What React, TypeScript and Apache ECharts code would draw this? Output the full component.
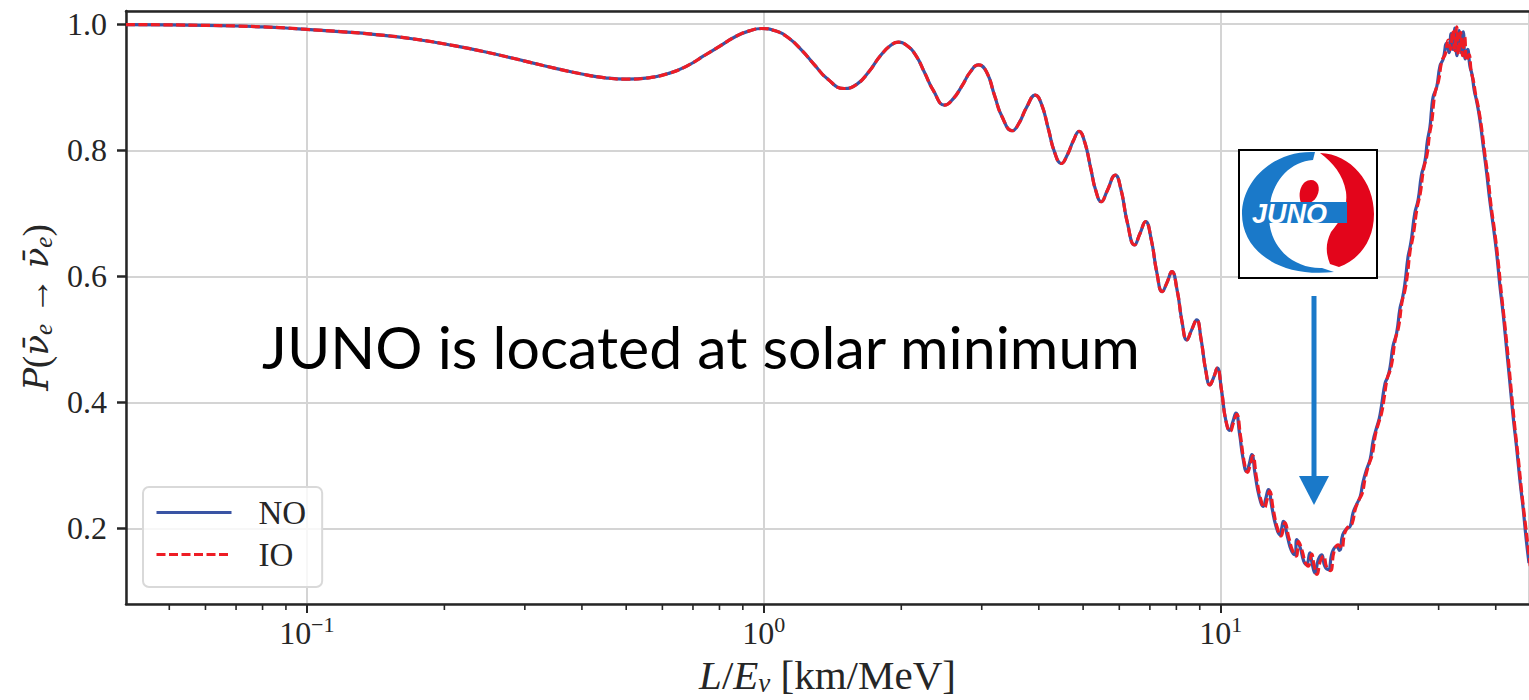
import React, { useEffect, useRef } from "react";
import * as echarts from "echarts";

// Survival probability P(anti-nu_e -> anti-nu_e) versus L/E (km/MeV)
// Region where both orderings coincide
const sharedCurve: [number, number][] = [
  [0.0402, 0.9995], [0.05, 0.999], [0.06, 0.9982], [0.07, 0.9972], [0.08, 0.9958], [0.09, 0.994],
  [0.1, 0.9918], [0.12, 0.988], [0.14, 0.984], [0.17, 0.977], [0.21, 0.966], [0.255, 0.9535],
  [0.3, 0.9415], [0.35, 0.93], [0.4, 0.921], [0.45, 0.915], [0.5, 0.9128], [0.56, 0.915],
  [0.62, 0.922], [0.68, 0.934], [0.74, 0.95], [0.8, 0.965], [0.87, 0.981], [0.93, 0.9895],
  [0.99, 0.9932], [1.06, 0.9895], [1.13, 0.979], [1.21, 0.959], [1.29, 0.936], [1.38, 0.913],
  [1.5, 0.898], [1.6, 0.905], [1.7, 0.925], [1.8, 0.95], [1.9, 0.967], [1.97, 0.9715],
  [2.05, 0.967], [2.15, 0.951], [2.25, 0.923], [2.35, 0.895], [2.49, 0.8716], [2.6, 0.882],
  [2.72, 0.903], [2.83, 0.924], [2.95, 0.9355], [3.07, 0.925], [3.2, 0.887], [3.32, 0.854],
  [3.5, 0.831], [3.62, 0.843], [3.76, 0.868], [3.93, 0.8875], [4.05, 0.874], [4.2, 0.833],
  [4.33, 0.797], [4.48, 0.779], [4.62, 0.793], [4.76, 0.815], [4.9, 0.83], [5.04, 0.813],
  [5.2, 0.77], [5.33, 0.736], [5.48, 0.7183], [5.64, 0.735], [5.88, 0.7607], [6.05, 0.738],
  [6.25, 0.685], [6.48, 0.6497], [6.66, 0.668], [6.85, 0.6867], [7.05, 0.658], [7.25, 0.606],
  [7.45, 0.5757], [7.63, 0.59], [7.82, 0.6074], [8.03, 0.578], [8.24, 0.526], [8.43, 0.499],
  [8.64, 0.515], [8.86, 0.5308], [9.06, 0.5], [9.28, 0.45], [9.47, 0.4278], [9.66, 0.44],
  [9.83, 0.4543], [10.04, 0.42], [10.26, 0.372],
];

// Normal ordering beyond 10 km/MeV
const noTail: [number, number][] = [
  [10.47, 0.3555], [10.62, 0.368], [10.8, 0.383], [11.0, 0.35], [11.2, 0.31], [11.4, 0.2904],
  [11.55, 0.302], [11.7, 0.3169], [11.9, 0.285], [12.15, 0.25], [12.4, 0.2349], [12.55, 0.247],
  [12.72, 0.2614], [12.95, 0.233], [13.2, 0.205], [13.47, 0.19], [13.6, 0.2], [13.72, 0.2111],
  [14.0, 0.187], [14.28, 0.165], [14.54, 0.1583], [14.68, 0.182], [14.95, 0.168], [15.2, 0.148],
  [15.42, 0.1425], [15.68, 0.161], [15.85, 0.145], [16.09, 0.1293], [16.35, 0.15], [16.63, 0.158],
  [16.9, 0.14], [17.2, 0.1346], [17.55, 0.162], [17.94, 0.1715], [18.2, 0.165], [18.5, 0.19],
  [18.9, 0.2], [19.2, 0.203], [19.5, 0.2254], [19.9, 0.24], [20.2, 0.25], [20.5, 0.2737],
  [20.9, 0.295], [21.25, 0.31], [21.58, 0.3403], [21.95, 0.36], [22.25, 0.375], [22.5, 0.395],
  [22.9, 0.43], [23.2, 0.44], [23.48, 0.4554], [23.85, 0.49], [24.27, 0.5097], [24.7, 0.55],
  [25.0, 0.565], [25.31, 0.5885], [25.7, 0.63], [25.95, 0.645], [26.18, 0.6611], [26.6, 0.7],
  [27.06, 0.7217], [27.5, 0.76], [27.99, 0.782], [28.35, 0.815], [28.71, 0.8366], [28.95, 0.865],
  [29.19, 0.885], [29.7, 0.9], [30.2, 0.9334], [30.7, 0.945], [31.22, 0.9697], [31.6, 0.955],
  [31.95, 0.985], [32.3, 0.96], [32.56, 0.994], [32.9, 0.95], [33.25, 0.99], [33.6, 0.955],
  [33.96, 0.988], [34.3, 0.945], [34.7, 0.96], [35.12, 0.9334], [35.5, 0.92], [35.9, 0.895],
  [36.3, 0.879], [36.9, 0.85], [37.56, 0.8063], [38.2, 0.765], [38.8, 0.7217], [39.5, 0.68],
  [40.18, 0.637], [40.85, 0.585], [41.53, 0.54], [42.25, 0.485], [42.96, 0.431], [43.7, 0.375],
  [44.44, 0.328], [45.2, 0.275], [45.93, 0.2314], [46.6, 0.185], [47.3, 0.145],
];

// Inverted ordering beyond 10 km/MeV
const ioTail: [number, number][] = [
  [10.5, 0.354], [10.66, 0.367], [10.84, 0.381], [11.05, 0.347], [11.25, 0.307], [11.45, 0.289],
  [11.6, 0.3], [11.76, 0.315], [11.97, 0.282], [12.22, 0.248], [12.47, 0.233], [12.63, 0.245],
  [12.8, 0.259], [13.03, 0.231], [13.28, 0.203], [13.56, 0.188], [13.7, 0.198], [13.82, 0.209],
  [14.1, 0.185], [14.38, 0.164], [14.64, 0.156], [14.8, 0.179], [15.07, 0.165], [15.32, 0.146],
  [15.55, 0.14], [15.82, 0.159], [16.0, 0.143], [16.25, 0.127], [16.52, 0.148], [16.8, 0.156],
  [17.07, 0.138], [17.38, 0.133], [17.72, 0.164], [18.1, 0.174], [18.38, 0.168], [18.7, 0.193],
  [19.08, 0.204], [19.4, 0.208], [19.7, 0.23], [20.1, 0.246], [20.42, 0.256], [20.72, 0.28],
  [21.12, 0.302], [21.48, 0.318], [21.8, 0.348], [22.18, 0.368], [22.5, 0.383], [22.75, 0.403],
  [23.15, 0.438], [23.45, 0.449], [23.72, 0.464], [24.1, 0.499], [24.52, 0.52], [24.95, 0.56],
  [25.28, 0.576], [25.6, 0.6], [25.98, 0.64], [26.25, 0.656], [26.48, 0.672], [26.9, 0.708],
  [27.35, 0.732], [27.8, 0.77], [28.28, 0.792], [28.65, 0.825], [29.0, 0.847], [29.25, 0.875],
  [29.5, 0.893], [29.98, 0.91], [30.5, 0.942], [31.0, 0.952], [31.5, 0.975], [31.85, 0.96],
  [32.2, 0.99], [32.55, 0.958], [32.85, 0.996], [33.15, 0.952], [33.5, 0.987], [33.85, 0.95],
  [34.2, 0.98], [34.55, 0.942], [34.95, 0.952], [35.35, 0.925], [35.75, 0.91], [36.15, 0.888],
  [36.6, 0.87], [37.2, 0.838], [37.85, 0.795], [38.5, 0.755], [39.1, 0.71], [39.8, 0.67],
  [40.5, 0.623], [41.15, 0.573], [41.85, 0.525], [42.6, 0.47], [43.3, 0.415], [44.05, 0.36],
  [44.8, 0.312], [45.55, 0.26], [46.3, 0.215], [47.0, 0.175], [47.6, 0.14],
];

const seriesNames = ["NO", "IO"];
const xMinorTicks = [
  0.05, 0.06, 0.07, 0.08, 0.09,
  0.2, 0.3, 0.4, 0.5, 0.6, 0.7, 0.8, 0.9,
  2, 3, 4, 5, 6, 7, 8, 9,
  20, 30, 40,
];
const X_MIN = 0.0402;
const X_MAX = 47.3;
const Y_MIN = 0.08;
const Y_MAX = 1.021;
const annotation = "JUNO is located at solar minimum";
const logoWord = "JUNO";

const SERIF = "'Liberation Serif', 'DejaVu Serif', serif";
const INK = "#262626";
const LOGO_BLUE = "#1a79c9";
const LOGO_RED = "#e3051b";

// Logo outlines, drawn around the logo centre (0, 0)
echarts.graphic.registerShape(
  "junoBlueArc",
  echarts.graphic.extendPath(
    "M 7 -62 C -34 -64 -66 -34 -66 0 C -66 36 -30 64 26 58 L 14 54 C -14 55 -39 34 -39 2 C -39 -30 -20 -52 5 -54 Z",
    {}
  )
);
echarts.graphic.registerShape(
  "junoRedArc",
  echarts.graphic.extendPath(
    "M 12 -61 C 43 -60 66 -32 66 0 C 66 28 50 46 31 53 L 22 50 C 18 40 17 30 23 18 C 33 6 40 -6 38 -22 C 35 -40 25 -51 12 -61 Z",
    {}
  )
);
echarts.graphic.registerShape(
  "junoDot",
  echarts.graphic.extendPath(
    "M -7 -11 C -11 -22 -6 -34 3 -34 C 10 -34 13 -26 9 -18 C 6 -12 0 -9 -7 -11 Z",
    {}
  )
);

const powLabel = (v: number) => {
  const n = Math.round(Math.log10(v));
  const exp = n < 0 ? "\u2212" + Math.abs(n) : String(n);
  return `{b|10}{s|${exp}}`;
};

export default function App() {
  const ref = useRef<HTMLDivElement>(null);

  useEffect(() => {
    document.body.style.margin = "0";
    if (!ref.current) return;
    const chart = echarts.init(ref.current, undefined, { renderer: "svg" });

    const lcx = 1308;
    const lcy = 214;

    chart.setOption({
      animation: false,
      backgroundColor: "#ffffff",
      grid: {
        left: 126,
        right: 0,
        top: 11,
        bottom: 96,
        containLabel: false,
        outerBoundsMode: "none",
      },
      legend: {
        data: seriesNames,
        orient: "vertical",
        left: 143,
        top: 487,
        padding: [9, 16, 16, 12],
        itemGap: 9,
        itemWidth: 75,
        itemHeight: 30,
        borderColor: "#d9d9d9",
        borderWidth: 2,
        borderRadius: 6,
        backgroundColor: "rgba(255,255,255,0.8)",
        itemStyle: { opacity: 0 },
        lineStyle: { width: 3 },
        textStyle: {
          fontFamily: SERIF,
          fontSize: 33,
          color: INK,
          lineHeight: 30,
          padding: [0, 0, 0, 22],
        },
      },
      xAxis: [
        {
          type: "log",
          logBase: 10,
          min: X_MIN,
          max: X_MAX,
          position: "bottom",
          axisLine: { show: true, onZero: false, lineStyle: { color: INK, width: 2.5 } },
          axisTick: { show: true, length: 9, lineStyle: { color: INK, width: 2 } },
          axisLabel: {
            showMinLabel: false,
            showMaxLabel: false,
            margin: 9,
            formatter: powLabel,
            rich: {
              b: { fontFamily: SERIF, fontSize: 32, color: INK, lineHeight: 36, verticalAlign: "bottom" },
              s: { fontFamily: SERIF, fontSize: 22, color: INK, lineHeight: 15, verticalAlign: "top" },
            },
          },
          splitLine: { show: true, lineStyle: { color: "#d4d4d4", width: 2 } },
          name: "{i|L}/{i|E}{sub|\u03bd} [km/MeV]",
          nameLocation: "middle",
          nameGap: 47,
          nameTextStyle: {
            fontFamily: SERIF,
            fontSize: 41,
            color: INK,
            lineHeight: 43,
            rich: {
              i: { fontFamily: SERIF, fontStyle: "italic", fontSize: 41, color: INK, lineHeight: 43 },
              sub: { fontFamily: SERIF, fontStyle: "italic", fontSize: 27, color: INK, lineHeight: 28, verticalAlign: "bottom" },
            },
          },
        },
        {
          type: "log",
          logBase: 10,
          min: X_MIN,
          max: X_MAX,
          position: "top",
          axisLine: { show: true, onZero: false, lineStyle: { color: INK, width: 2.5 } },
          axisTick: { show: false },
          axisLabel: { show: false },
          splitLine: { show: false },
        },
      ],
      yAxis: {
        type: "value",
        min: Y_MIN,
        max: Y_MAX,
        axisLine: { show: true, onZero: false, lineStyle: { color: INK, width: 2.5 } },
        axisTick: { show: true, length: 9, lineStyle: { color: INK, width: 2.5 } },
        axisLabel: {
          showMinLabel: false,
          showMaxLabel: false,
          margin: 19,
          fontFamily: SERIF,
          fontSize: 32,
          color: INK,
          formatter: (v: number) => v.toFixed(1),
        },
        splitLine: { show: true, lineStyle: { color: "#d4d4d4", width: 2 } },
        name: "{i|P}({i|\u03bd\u0304}{sub|e} \u2192 {i|\u03bd\u0304}{sub|e})",
        nameLocation: "middle",
        nameRotate: 90,
        nameGap: 62,
        nameTextStyle: {
          fontFamily: SERIF,
          fontSize: 37,
          color: INK,
          lineHeight: 40,
          rich: {
            i: { fontFamily: "'DejaVu Serif', serif", fontStyle: "italic", fontSize: 34, color: INK, lineHeight: 40 },
            sub: { fontFamily: SERIF, fontStyle: "italic", fontSize: 25, color: INK, lineHeight: 26, verticalAlign: "bottom" },
          },
        },
      },
      series: [
        {
          name: seriesNames[0],
          type: "line",
          data: sharedCurve.concat(noTail),
          symbol: "none",
          smooth: 0.5,
          lineStyle: { color: "#3a54a4", width: 3.2 },
          itemStyle: { color: "#3a54a4" },
          z: 3,
        },
        {
          name: seriesNames[1],
          type: "line",
          data: sharedCurve.concat(ioTail),
          symbol: "none",
          smooth: 0.5,
          lineStyle: { color: "#ee1d25", width: 3.2, type: [9, 3.5] },
          itemStyle: { color: "#ee1d25" },
          z: 4,
        },
        {
          // minor ticks of the logarithmic axis
          type: "custom",
          silent: true,
          clip: false,
          data: xMinorTicks.map((v) => [v, Y_MIN]),
          renderItem: (_params: any, api: any) => {
            const p = api.coord([api.value(0), api.value(1)]);
            return {
              type: "line",
              shape: { x1: p[0], y1: p[1], x2: p[0], y2: p[1] + 6 },
              style: { stroke: INK, lineWidth: 1.6 },
            };
          },
          z: 5,
        },
      ],
      graphic: [
        {
          type: "text",
          left: 262,
          top: 317,
          z: 10,
          style: {
            text: annotation,
            fontFamily: "Lato, 'Open Sans', sans-serif",
            fontSize: 59,
            fill: "#000000",
          },
        },
        {
          type: "rect",
          shape: { x: 1239, y: 150, width: 138, height: 128 },
          style: { fill: "#ffffff", stroke: "#000000", lineWidth: 2 },
          z: 10,
        },
        {
          type: "group",
          x: lcx,
          y: lcy,
          z: 11,
          children: [
            { type: "junoBlueArc", z: 11, style: { fill: LOGO_BLUE } },
            { type: "junoRedArc", z: 11, style: { fill: LOGO_RED } },
            { type: "junoDot", z: 11, style: { fill: LOGO_RED } },
            { type: "rect", z: 11, shape: { x: -54, y: -12, width: 93, height: 21 }, style: { fill: LOGO_BLUE } },
            {
              type: "text",
              z: 12,
              x: -56,
              y: 0,
              style: {
                text: logoWord,
                fontFamily: "'Liberation Sans', Arial, sans-serif",
                fontWeight: "bold",
                fontStyle: "italic",
                fontSize: 27,
                fill: "#ffffff",
                verticalAlign: "middle",
              },
            },
          ],
        },
        {
          type: "line",
          shape: { x1: 1314, y1: 296, x2: 1314, y2: 478 },
          style: { stroke: LOGO_BLUE, lineWidth: 5 },
          z: 10,
        },
        {
          type: "polygon",
          shape: { points: [[1299, 476], [1329, 476], [1314, 505]] },
          style: { fill: LOGO_BLUE },
          z: 10,
        },
      ],
    });

    return () => chart.dispose();
  }, []);

  return <div ref={ref} style={{ width: 1529, height: 700 }} />;
}
